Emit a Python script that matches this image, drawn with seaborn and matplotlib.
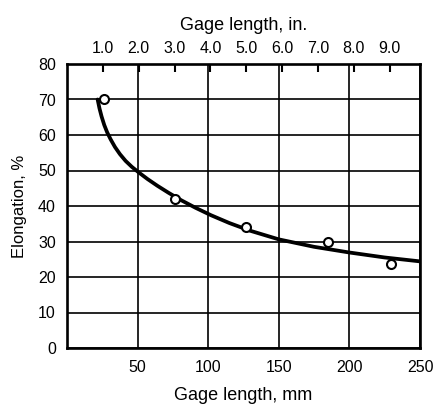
import numpy as np
import pandas as pd
import matplotlib
matplotlib.use("Agg")
import matplotlib.pyplot as plt
import seaborn as sns

# Measured elongation at each gage length (open circles)
gage_mm = [26.4, 76.5, 126.8, 185.0, 229.5]
elong_pct = [70.0, 41.9, 34.0, 29.8, 23.6]

# Smoothed trend line through the measurements
curve_mm = [21.7, 23.0, 24.5, 26.4, 28.5, 31.0, 34.0, 37.5, 41.5, 46.0, 51.0, 57.0,
            64.0, 72.0, 81.0, 91.0, 102.0, 115.0, 130.0, 150.0, 175.0, 200.0, 225.0, 250.0]
curve_pct = [70.0, 67.5, 65.2, 62.8, 60.7, 58.7, 56.6, 54.6, 52.7, 51.0, 49.4, 47.6,
             45.7, 43.7, 41.6, 39.5, 37.4, 35.2, 33.0, 30.6, 28.5, 26.9, 25.5, 24.4]

x_ticks = [50, 100, 150, 200, 250]
y_ticks = [0, 10, 20, 30, 40, 50, 60, 70, 80]
in_ticks = [1, 2, 3, 4, 5, 6, 7, 8, 9]
in_labels = ["1.0", "2.0", "3.0", "4.0", "5.0", "6.0", "7.0", "8.0", "9.0"]

sns.set_style("white")
plt.rcParams["font.family"] = ["Liberation Sans", "DejaVu Sans"]
plt.rcParams.update({
    "text.color": "black",
    "axes.labelcolor": "black",
    "xtick.color": "black",
    "ytick.color": "black",
})

fig = plt.figure(figsize=(4.34, 4.05), dpi=100)
ax = fig.add_axes([67 / 434, 1 - 348 / 405, 353 / 434, 284 / 405])

points = pd.DataFrame({"mm": gage_mm, "pct": elong_pct})
trend = pd.DataFrame({"mm": curve_mm, "pct": curve_pct})

sns.lineplot(data=trend, x="mm", y="pct", ax=ax, color="black", linewidth=2.7,
             sort=False, zorder=3)
sns.scatterplot(data=points, x="mm", y="pct", ax=ax, marker="o", s=42,
                facecolor="white", edgecolor="black", linewidth=1.5, zorder=4)

ax.set_xlim(0, 250)
ax.set_ylim(0, 80)
ax.set_xticks(x_ticks)
ax.set_yticks(y_ticks)
ax.grid(True, color="black", linewidth=1.2)
ax.set_axisbelow(True)
for s in ax.spines.values():
    s.set_color("black")
    s.set_linewidth(1.9)

ax.tick_params(axis="both", length=0, labelsize=11.5)
ax.tick_params(axis="x", pad=9)
ax.tick_params(axis="y", pad=8)

ax.set_xlabel("Gage length, mm", fontsize=13, labelpad=8)
ax.set_ylabel("Elongation, %", fontsize=12, labelpad=8)

top = ax.secondary_xaxis("top", functions=(lambda m: m / 25.4, lambda i: i * 25.4))
top.set_xticks(in_ticks)
top.set_xticklabels(in_labels, fontsize=11.5)
top.tick_params(direction="in", length=6, width=1.5, pad=6, color="black")
top.set_xlabel("Gage length, in.", fontsize=13, labelpad=8)

fig.savefig("out.png", dpi=100)
